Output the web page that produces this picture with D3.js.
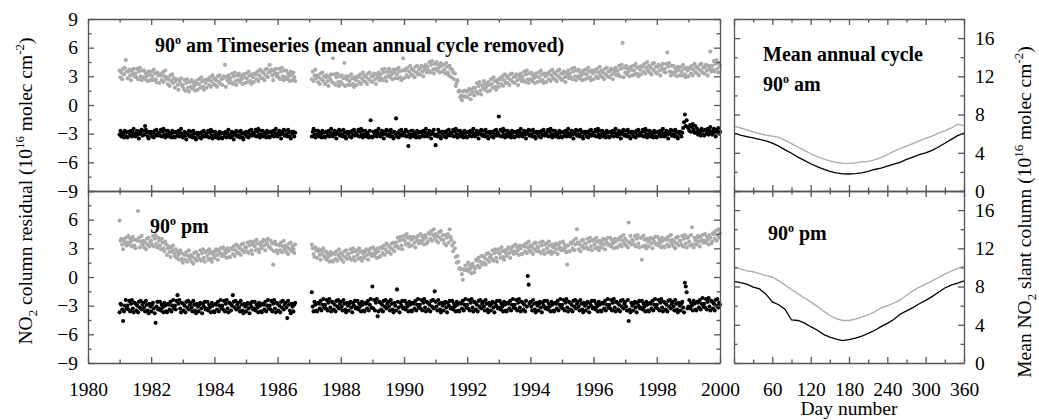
<!DOCTYPE html>
<html><head><meta charset="utf-8">
<script src="https://cdn.jsdelivr.net/npm/d3@7"></script>
<style>
body{margin:0;background:#fff}
svg{display:block}
text{font-family:"Liberation Serif","Times New Roman",serif;fill:#000}
</style>
</head><body>
<svg id="c" width="1039" height="420"></svg>
<script>
// ---------------- DATA ----------------
const yearLabels = [1980,1982,1984,1986,1988,1990,1992,1994,1996,1998,2000];
const residLabels = [-9,-6,-3,0,3,6,9];
const dayLabels = [60,120,180,240,300,360];
const slantLabels = [0,4,8,12,16];
const firstYear = 1981;
const samplesPerYear = 36;

// residual series (10^16 molec cm^-2): one row per year 1981..2000, 36 samples per year (4 quarters x 9)
const amGrayResid = [
[3.6,2.9,3.4,2.7,3.8,3.2,3.9,4.7,3.5, 2.8,3.5,3.7,3.1,2.6,3.6,3.3,3.8,3.0, 3.3,2.9,3.8,2.7,3.5,3.9,3.0,2.6,3.6, 2.9,3.6,2.7,3.3,3.0,2.5,3.5,3.2,2.6],
[3.5,3.0,2.6,3.7,3.3,2.7,2.4,3.4,3.1, 2.3,3.2,3.1,2.6,3.4,2.4,3.0,3.6,2.7, 2.9,2.2,2.7,2.0,3.1,2.5,3.2,2.3,2.8, 1.8,2.5,2.7,2.1,1.6,2.6,2.3,2.8,2.0],
[2.1,1.7,2.6,1.5,2.3,2.7,1.8,1.4,2.4, 1.9,2.6,1.7,2.3,2.0,1.5,2.5,2.2,1.6, 2.7,2.2,1.8,2.9,2.5,1.9,1.6,2.6,2.3, 1.8,2.7,2.6,2.1,2.9,1.9,2.5,3.1,2.2],
[2.8,2.1,2.6,1.9,3.0,2.4,3.1,2.2,2.7, 2.1,2.8,3.0,4.2,1.9,2.9,2.6,3.1,2.3, 2.8,2.4,3.3,2.2,3.0,3.4,2.5,2.1,3.1, 2.6,3.3,2.4,3.0,2.7,2.2,3.2,2.9,2.3],
[3.3,2.8,2.4,3.5,3.1,2.5,2.2,3.2,2.9, 2.4,3.3,3.2,2.7,3.5,2.5,3.1,3.7,2.8, 3.5,2.8,3.3,2.6,3.7,3.1,3.8,2.9,3.4, 4.2,3.5,3.7,3.1,2.6,3.6,3.3,3.8,3.0],
[3.3,2.9,3.8,2.7,3.5,3.9,3.0,2.6,3.6, 2.9,3.6,2.7,3.3,3.0,2.5,3.5,3.2,2.6, 3.4,2.9,2.5,null,null,null,null,null,null, null,null,null,null,null,null,null,null,null],
[null,null,null,2.7,3.5,2.5,3.1,3.7,2.8, 3.1,2.4,2.9,2.2,3.3,2.7,3.4,2.5,3.0, 2.2,2.9,3.1,2.5,2.0,3.0,2.7,3.2,2.4, 4.9,2.3,3.2,2.1,2.9,3.3,2.4,2.0,3.0],
[2.4,3.1,2.2,2.8,4.4,2.0,3.0,2.7,2.1, 3.0,2.5,2.1,3.2,2.8,2.2,1.9,2.9,2.6, 2.1,3.0,2.9,2.4,3.2,2.2,2.8,3.4,2.5, 3.1,2.4,2.9,2.2,3.3,2.7,3.4,2.5,3.0],
[2.4,3.1,3.3,2.7,2.2,3.2,2.9,3.4,2.6, 3.2,2.8,3.7,2.6,3.4,3.8,2.9,2.5,3.5, 3.1,3.8,2.9,3.5,3.2,2.7,3.7,3.4,2.8, 3.7,3.2,2.8,3.9,3.5,2.9,2.6,3.6,4.9],
[2.8,3.7,3.6,3.1,3.9,2.9,3.5,4.1,3.2, 3.8,3.1,3.6,2.9,4.0,3.4,4.1,3.2,3.7, 3.2,3.9,4.1,3.5,3.0,4.0,3.7,4.2,3.4, 4.0,3.6,4.5,3.4,4.2,4.6,3.7,3.3,4.3],
[3.8,4.5,3.6,4.2,3.9,3.4,4.4,4.1,3.5, 4.2,3.7,3.3,4.4,4.0,3.4,3.1,4.1,3.8, 2.9,3.7,3.4,2.7,3.3,2.0,2.3,2.6,1.4, 1.5,0.8,1.0,0.5,1.4,0.9,1.5,0.9,1.4],
[0.8,1.5,1.7,1.1,0.6,1.6,1.3,1.8,1.0, 1.8,1.4,2.3,1.2,2.0,2.4,1.5,1.1,2.1, 1.8,2.5,1.6,2.2,1.9,1.4,2.4,2.1,1.5, 2.7,2.2,1.8,2.9,2.5,1.9,1.6,2.6,2.3],
[1.9,2.8,2.7,2.2,3.0,2.0,2.6,3.2,2.3, 3.0,2.3,2.8,2.1,3.2,2.6,3.3,2.4,2.9, 2.3,3.0,3.2,2.6,2.1,3.1,2.8,3.3,2.5, 3.0,2.6,3.5,2.4,3.2,3.6,2.7,2.3,3.3],
[2.7,3.4,2.5,3.1,2.8,2.3,3.3,3.0,2.4, 3.4,2.9,2.5,3.6,3.2,2.6,2.3,3.3,3.0, 2.4,3.3,3.2,2.7,3.5,2.5,3.1,3.7,2.8, 3.4,2.7,3.2,2.5,3.6,3.0,3.7,2.8,3.3],
[2.6,3.3,3.5,2.9,2.4,3.4,3.1,3.6,2.8, 3.3,2.9,3.8,2.7,3.5,3.9,3.0,2.6,3.6, 3.0,3.7,2.8,3.4,3.1,2.6,3.6,3.3,2.7, 3.7,3.2,2.8,3.9,3.5,2.9,2.6,3.6,3.3],
[2.7,3.6,3.5,3.0,3.8,2.8,3.4,4.0,3.1, 3.6,2.9,3.4,2.7,3.8,3.2,3.9,3.0,3.5, 2.9,3.6,3.8,3.2,2.7,3.7,3.4,3.9,3.1, 3.6,3.2,4.1,3.0,3.8,4.2,6.5,2.9,3.9],
[3.4,4.1,3.2,3.8,3.5,3.0,4.0,3.7,3.1, 4.1,3.6,3.2,4.3,3.9,3.3,3.0,4.0,3.7, 3.2,4.1,4.0,3.5,4.3,3.3,3.9,4.5,3.6, 4.1,3.4,3.9,3.2,4.3,3.7,4.4,3.5,4.0],
[3.3,4.0,4.2,3.6,3.1,4.1,3.8,4.3,3.5, 3.8,3.4,4.3,5.5,4.0,4.4,3.5,3.1,4.1, 3.4,4.1,3.2,3.8,3.5,3.0,4.0,3.7,3.1, 4.0,3.5,3.1,4.2,3.8,3.2,2.9,3.9,3.6],
[3.0,3.9,3.8,3.3,4.1,3.1,3.7,4.3,3.4, 4.0,3.3,3.8,3.1,4.2,3.6,4.3,3.4,3.9, 3.3,4.0,4.2,3.6,3.1,4.1,3.8,5.6,3.5, 4.1,3.7,4.6,3.5,4.3,4.7,3.8,3.4,4.4],
[4.1]
];
const amBlackResid = [
[-3.1,-2.7,-3.3,-2.9,-3.1,-3.4,-2.7,-2.9,-3.3, -3.4,-2.8,-2.9,-3.2,-2.7,-3.3,-2.9,-2.5,-3.1, -3.3,-2.9,-2.7,-3.1,-3.5,-2.8,-3.0,-2.6,-3.2, -2.7,-3.1,-2.2,-2.6,-2.9,-3.3,-3.5,-2.8,-3.0],
[-2.8,-3.3,-2.9,-3.4,-2.7,-3.1,-2.6,-3.2,-2.9, -2.9,-3.2,-2.6,-3.3,-2.8,-2.5,-3.1,-3.4,-2.7, -3.1,-2.7,-3.3,-2.9,-3.1,-3.4,-2.7,-2.9,-3.3, -3.4,-2.8,-2.9,-3.2,-2.7,-3.3,-2.9,-2.5,-3.1],
[-3.4,-3.0,-2.8,-3.2,-3.6,-2.9,-3.1,-2.7,-3.3, -2.8,-3.2,-3.4,-2.7,-3.0,-3.4,-3.6,-2.9,-3.1, -2.9,-3.4,-3.0,-3.5,-2.8,-3.2,-2.7,-3.3,-3.0, -3.0,-3.3,-2.7,-3.4,-2.9,-2.6,-3.2,-3.5,-2.8],
[-3.2,-2.8,-3.4,-3.0,-3.2,-3.5,-2.8,-3.0,-3.4, -3.5,-2.9,-3.0,-3.3,-2.8,-3.4,-3.0,-2.6,-3.2, -3.4,-3.0,-2.8,-3.2,-3.6,-2.9,-3.1,-2.7,-3.3, -2.8,-3.2,-3.4,-2.7,-3.0,-3.4,-3.6,-2.9,-3.1],
[-2.8,-3.3,-2.9,-3.4,-2.7,-3.1,-2.6,-3.2,-2.9, -2.9,-3.2,-2.6,-3.3,-2.8,-2.5,-3.1,-3.4,-2.7, -3.1,-2.7,-3.3,-2.9,-3.1,-3.4,-2.7,-2.9,-3.3, -3.4,-2.8,-2.9,-3.2,-2.7,-3.3,-2.9,-2.5,-3.1],
[-3.3,-2.9,-2.7,-3.1,-3.5,-2.8,-3.0,-2.6,-3.2, -2.7,-3.1,-3.3,-2.6,-2.9,-3.3,-3.5,-2.8,-3.0, -2.8,-3.3,-2.9,null,null,null,null,null,null, null,null,null,null,null,null,null,null,null],
[null,null,null,-3.3,-2.8,-2.5,-3.1,-3.4,-2.7, -3.1,-2.7,-3.3,-2.9,-3.1,-3.4,-2.7,-2.9,-3.3, -3.4,-2.8,-2.9,-3.2,-2.7,-3.3,-2.9,-2.5,-3.1, -3.3,-2.9,-2.7,-3.1,-3.5,-2.8,-3.0,-2.6,-3.2],
[-2.7,-3.1,-3.3,-2.6,-2.9,-3.3,-3.5,-2.8,-3.0, -2.8,-3.3,-2.9,-3.4,-2.7,-3.1,-2.6,-3.2,-2.9, -2.9,-3.2,-2.6,-3.3,-2.8,-2.5,-3.1,-3.4,-2.7, -3.1,-2.7,-3.3,-2.9,-3.1,-3.4,-2.7,-1.6,-3.3],
[-3.4,-2.8,-2.9,-3.2,-2.7,-3.3,-2.9,-2.5,-3.1, -3.3,-2.9,-2.7,-3.1,-3.5,-2.8,-3.0,-2.6,-3.2, -2.7,-3.1,-3.3,-2.6,-2.9,-3.3,-3.5,-2.8,-3.0, -1.4,-3.3,-2.9,-3.4,-2.7,-3.1,-2.6,-3.2,-2.9],
[-2.9,-3.2,-2.6,-3.3,-2.8,-4.3,-3.1,-3.4,-2.7, -3.1,-2.7,-3.3,-2.9,-3.1,-3.4,-2.7,-2.9,-3.3, -3.4,-2.8,-2.9,-3.2,-2.7,-3.3,-2.9,-2.5,-3.1, -3.3,-2.9,-2.7,-3.1,-3.5,-2.8,-3.0,-2.6,-3.2],
[-4.2,-3.1,-3.3,-2.6,-2.9,-3.3,-3.5,-2.8,-3.0, -2.8,-3.3,-2.9,-3.4,-2.7,-3.1,-2.6,-3.2,-2.9, -2.9,-3.2,-2.6,-3.3,-2.8,-2.5,-3.1,-3.4,-2.7, -3.1,-2.7,-3.3,-2.9,-3.1,-3.4,-2.7,-2.9,-3.3],
[-3.4,-2.8,-2.9,-3.2,-2.7,-3.3,-2.9,-2.5,-3.1, -3.3,-2.9,-2.7,-3.1,-3.5,-2.8,-3.0,-2.6,-3.2, -2.7,-3.1,-3.3,-2.6,-2.9,-3.3,-3.5,-2.8,-3.0, -2.8,-3.3,-2.9,-3.4,-2.7,-3.1,-2.6,-3.2,-2.9],
[-1.2,-3.2,-2.6,-3.3,-2.8,-2.5,-3.1,-3.4,-2.7, -3.1,-2.7,-3.3,-2.9,-3.1,-3.4,-2.7,-2.9,-3.3, -3.4,-2.8,-2.9,-3.2,-2.7,-3.3,-2.9,-2.5,-3.1, -3.3,-2.9,-2.7,-3.1,-3.5,-2.8,-3.0,-2.6,-3.2],
[-2.7,-3.1,-3.3,-2.6,-2.9,-3.3,-3.5,-2.8,-3.0, -2.8,-3.3,-2.9,-3.4,-2.7,-3.1,-2.6,-3.2,-2.9, -2.9,-3.2,-2.6,-3.3,-2.8,-2.5,-3.1,-3.4,-2.7, -3.1,-2.7,-3.3,-2.9,-3.1,-3.4,-2.7,-2.9,-3.3],
[-3.4,-2.8,-2.9,-3.2,-2.7,-3.3,-2.9,-2.5,-3.1, -3.3,-2.9,-2.7,-3.1,-3.5,-2.8,-3.0,-2.6,-3.2, -2.7,-3.1,-3.3,-2.6,-2.9,-3.3,-3.5,-2.8,-3.0, -2.8,-3.3,-2.9,-3.4,-2.7,-3.1,-2.6,-3.2,-2.9],
[-2.9,-3.2,-2.6,-3.3,-2.8,-2.5,-3.1,-3.4,-2.7, -3.1,-2.7,-3.3,-2.9,-3.1,-3.4,-2.7,-2.9,-3.3, -3.4,-2.8,-2.9,-3.2,-2.7,-3.3,-2.9,-2.5,-3.1, -3.3,-2.9,-2.7,-3.1,-3.5,-2.8,-3.0,-2.6,-3.2],
[-2.7,-3.1,-3.3,-2.6,-2.9,-3.3,-3.5,-2.8,-3.0, -2.8,-3.3,-2.9,-3.4,-2.7,-3.1,-2.6,-3.2,-2.9, -2.9,-3.2,-2.6,-3.3,-2.8,-2.5,-3.1,-3.4,-2.7, -3.1,-2.7,-3.3,-2.9,-3.1,-3.4,-2.7,-2.9,-3.3],
[-3.4,-2.8,-2.9,-3.2,-2.7,-3.3,-2.9,-2.5,-3.1, -3.3,-2.9,-2.7,-3.1,-3.5,-2.8,-3.0,-2.6,-3.2, -2.7,-3.1,-3.3,-2.6,-2.9,-3.3,-3.5,-2.8,-3.0, -2.8,-3.3,-2.9,-2.4,-1.8,-1.0,-2.2,-1.6,-2.3],
[-2.4,-2.7,-2.1,-2.8,-2.3,-2.0,-2.6,-2.9,-2.2, -2.9,-2.5,-3.1,-2.7,-2.9,-3.2,-2.5,-2.7,-3.1, -3.2,-2.6,-2.7,-3.0,-2.5,-3.1,-2.7,-2.3,-2.9, -3.1,-2.7,-2.5,-2.9,-3.3,-2.6,-2.8,-2.4,-3.0],
[-2.8]
];
const pmGrayResid = [
[5.9,3.8,4.0,3.4,2.9,3.9,3.6,4.1,3.3, 3.6,4.3,3.4,4.0,3.7,3.2,4.2,3.9,3.3, 3.0,3.9,3.8,6.9,4.1,3.1,3.7,4.3,3.4, 3.8,3.1,3.6,2.9,4.0,3.4,4.1,3.2,3.7],
[3.8,3.4,4.3,3.2,4.0,4.4,3.5,3.1,4.1, 3.8,3.3,2.9,4.0,3.6,3.0,2.7,3.7,3.4, 2.3,3.0,3.2,2.6,2.1,3.1,2.8,3.3,2.5, 2.2,2.9,2.0,2.6,2.3,1.8,2.8,2.5,1.9],
[1.5,2.4,2.3,1.8,2.6,1.6,2.2,2.8,1.9, 2.3,1.6,2.1,1.4,2.5,1.9,2.6,1.7,2.2, 2.3,1.9,2.8,1.7,2.5,2.9,2.0,1.6,2.6, 2.7,2.2,1.8,2.9,2.5,1.9,1.6,2.6,2.3],
[2.0,2.7,2.9,2.3,1.8,2.8,2.5,3.0,2.2, 2.4,3.1,2.2,2.8,2.5,2.0,3.0,2.7,2.1, 2.1,3.0,2.9,2.4,3.2,2.2,2.8,3.4,2.5, 3.2,2.5,3.0,2.3,3.4,2.8,3.5,2.6,3.1],
[3.1,2.7,3.6,2.5,3.3,3.7,2.8,2.4,3.4, 3.7,3.2,2.8,3.9,3.5,2.9,2.6,3.6,3.3, 3.0,3.7,3.9,3.3,2.8,3.8,3.5,4.0,3.2, 3.1,3.8,2.9,3.5,1.3,2.7,3.7,3.4,2.8],
[2.5,3.4,3.3,2.8,3.6,2.6,3.2,3.8,2.9, 3.3,2.6,3.1,2.4,3.5,2.9,3.6,2.7,3.2, 2.9,2.5,3.4,null,null,null,null,null,null, null,null,null,null,null,null,null,null,null],
[null,null,null,3.4,3.0,2.4,2.1,3.1,2.8, 2.0,2.7,2.9,2.3,1.8,2.8,2.5,3.0,2.2, 2.0,2.7,1.8,2.4,2.1,1.6,2.6,2.3,1.7, 1.6,2.5,2.4,1.9,2.7,1.7,2.3,2.9,2.0],
[2.5,1.8,2.3,1.6,2.7,2.1,2.8,1.9,2.4, 2.4,2.0,2.9,1.8,2.6,3.0,2.1,1.7,2.7, 2.8,2.3,1.9,3.0,2.6,2.0,1.7,2.7,2.4, 2.0,2.7,2.9,2.3,1.8,2.8,2.5,3.0,2.2],
[2.4,3.1,2.2,2.8,2.5,2.0,3.0,2.7,2.1, 2.2,3.1,3.0,2.5,3.3,2.3,2.9,3.5,2.6, 3.3,2.6,3.1,2.4,3.5,2.9,3.6,2.7,3.2, 3.6,3.2,4.1,3.0,3.8,4.2,3.3,2.9,3.9],
[4.3,3.8,3.4,4.5,4.1,3.5,3.2,4.2,3.9, 3.3,4.0,4.2,3.6,3.1,4.1,3.8,4.3,3.5, 3.8,4.5,3.6,4.2,3.9,3.4,4.4,4.1,3.5, 3.7,4.6,4.5,4.0,4.8,3.8,4.4,5.0,4.1],
[4.5,3.8,4.3,3.6,4.7,4.1,4.8,3.9,4.4, 3.9,3.5,4.4,3.3,4.1,4.5,3.6,5.0,4.2, 3.9,3.3,2.7,3.6,3.0,2.1,1.5,2.2,1.6, 0.9,0.9,0.8,0.3,-0.3,0.8,0.7,1.2,0.7],
[0.8,1.5,0.6,1.2,0.9,0.4,1.4,1.1,0.5, 0.9,1.8,1.7,1.2,2.0,1.0,1.6,2.2,1.3, 2.2,1.5,2.0,1.3,2.4,1.8,2.5,1.6,2.1, 2.3,1.9,2.8,1.7,2.5,2.9,2.0,1.6,2.6],
[2.9,2.4,2.0,3.1,2.7,2.1,1.8,2.8,2.5, 2.2,2.9,3.1,2.5,2.0,3.0,2.7,3.2,2.4, 2.7,3.4,2.5,3.1,2.8,2.3,3.3,3.0,2.4, 2.4,3.3,3.2,2.7,3.5,2.5,3.1,3.7,2.8],
[3.3,2.6,3.1,2.4,3.5,2.9,3.6,2.7,3.2, 3.1,2.7,3.6,2.5,3.3,3.7,2.8,2.4,3.4, 3.5,3.0,2.6,3.7,3.3,2.7,2.4,3.4,3.1, 2.6,3.3,3.5,2.9,2.4,3.4,3.1,3.6,2.8],
[3.0,3.7,2.8,3.4,3.1,2.6,1.3,3.3,2.7, 2.7,3.6,3.5,3.0,3.8,2.8,3.4,4.0,5.0, 3.6,2.9,3.4,2.7,3.8,3.2,3.9,3.0,3.5, 3.5,3.1,4.0,2.9,3.7,4.1,3.2,2.8,3.8],
[3.9,3.4,3.0,4.1,3.7,3.1,2.8,3.8,3.5, 3.1,3.8,4.0,3.4,2.9,3.9,3.6,4.1,3.3, 3.4,4.1,3.2,3.8,3.5,3.0,4.0,3.7,3.1, 3.1,4.0,3.9,3.4,4.2,3.2,3.8,4.4,3.5],
[4.0,3.3,3.8,3.1,5.7,3.6,4.3,3.4,3.9, 3.8,3.4,4.3,3.2,4.0,4.4,3.5,3.1,4.1, 4.1,1.8,3.2,4.3,3.9,3.3,3.0,4.0,3.7, 3.2,3.9,4.1,3.5,3.0,4.0,3.7,4.2,3.4],
[3.5,4.2,3.3,3.9,3.6,3.1,4.1,3.8,3.2, 3.1,4.0,3.9,3.4,4.2,3.2,3.8,4.4,3.5, 3.9,3.2,3.7,3.0,4.1,3.5,4.2,3.3,3.8, 3.8,3.4,4.3,3.2,4.0,4.4,3.5,3.1,4.1],
[4.2,3.7,3.3,4.4,5.2,3.4,3.1,4.1,3.8, 3.4,4.1,4.3,3.7,3.2,4.2,3.9,4.4,3.6, 3.8,4.5,3.6,4.2,3.9,3.4,4.4,4.1,3.5, 3.7,4.6,4.5,4.0,4.8,3.8,4.4,5.0,4.1],
[4.6]
];
const pmBlackResid = [
[-3.7,-2.8,-2.9,-3.4,-4.6,-3.6,-3.0,-2.4,-3.3, -3.0,-3.4,-2.5,-3.6,-2.8,-2.4,-3.3,-3.7,-2.7, -2.8,-3.5,-3.0,-3.7,-2.6,-3.2,-2.5,-3.4,-2.9, -2.7,-3.2,-3.6,-2.5,-2.9,-3.5,-3.8,-2.8,-3.1],
[-3.6,-2.9,-2.7,-3.3,-3.8,-4.8,-3.1,-2.6,-3.4, -3.3,-2.6,-3.5,-2.9,-3.2,-3.7,-2.7,-3.0,-3.6, -3.7,-2.8,-2.9,-3.4,-2.6,-3.6,-3.0,-2.4,-3.3, -3.0,-3.4,-2.5,-1.9,-2.8,-2.4,-3.3,-3.7,-2.7],
[-2.8,-3.5,-3.0,-3.7,-2.6,-3.2,-2.5,-3.4,-2.9, -2.7,-3.2,-3.6,-2.5,-2.9,-3.5,-3.8,-2.8,-3.1, -3.6,-2.9,-2.7,-3.3,-3.8,-2.8,-3.1,-2.6,-3.4, -3.3,-2.6,-3.5,-2.9,-3.2,-3.7,-2.7,-3.0,-3.6],
[-3.7,-2.8,-2.9,-3.4,-2.6,-3.6,-3.0,-2.4,-3.3, -3.0,-3.4,-2.5,-3.6,-2.8,-2.4,-3.3,-3.7,-2.7, -2.8,-3.5,-3.0,-1.9,-2.6,-3.2,-2.5,-3.4,-2.9, -2.7,-3.2,-3.6,-2.5,-2.9,-3.5,-3.8,-2.8,-3.1],
[-3.6,-2.9,-2.7,-3.3,-3.8,-2.8,-3.1,-2.6,-3.4, -3.3,-2.6,-3.5,-2.9,-3.2,-3.7,-2.7,-3.0,-3.6, -3.7,-2.8,-2.9,-3.4,-2.6,-3.6,-3.0,-2.4,-3.3, -3.0,-3.4,-2.5,-3.6,-2.8,-2.4,-3.3,-3.7,-2.7],
[-2.8,-3.5,-3.0,-3.7,-2.6,-3.2,-2.5,-3.4,-2.9, -2.7,-3.2,-4.3,-2.5,-2.9,-3.5,-3.8,-2.8,-3.1, -3.6,-2.9,-2.7,null,null,null,null,null,null, null,null,null,null,null,null,null,null,null],
[null,null,null,-1.6,-3.1,-3.6,-2.6,-2.9,-3.5, -3.6,-2.7,-2.8,-3.3,-2.5,-3.5,-2.9,-2.3,-3.2, -2.9,-3.3,-2.4,-3.5,-2.7,-2.3,-3.2,-3.6,-2.6, -2.7,-3.4,-2.9,-3.6,-2.5,-3.1,-2.4,-3.3,-2.8],
[-2.6,-3.1,-3.5,-2.4,-2.8,-3.4,-3.7,-2.7,-3.0, -3.5,-2.8,-2.6,-3.2,-3.7,-2.7,-3.0,-2.5,-3.3, -3.2,-2.5,-3.4,-2.8,-3.1,-3.6,-2.6,-2.9,-3.5, -3.6,-2.7,-2.8,-3.3,-2.5,-3.5,-2.9,-2.3,-3.2],
[-1.0,-3.3,-2.4,-3.5,-2.7,-2.3,-4.1,-3.6,-2.6, -2.7,-3.4,-2.9,-3.6,-2.5,-3.1,-2.4,-3.3,-2.8, -2.6,-3.1,-3.5,-2.4,-2.8,-3.4,-3.7,-2.7,-3.0, -3.5,-1.3,-2.6,-3.2,-3.7,-2.7,-3.0,-2.5,-3.3],
[-3.2,-2.5,-3.4,-2.8,-3.1,-3.6,-2.6,-2.9,-3.5, -3.6,-2.7,-2.8,-3.3,-2.5,-3.5,-2.9,-2.3,-3.2, -2.9,-3.3,-2.4,-3.5,-2.7,-2.3,-3.2,-3.6,-2.6, -2.7,-3.4,-2.9,-3.6,-2.5,-3.1,-2.4,-3.3,-1.5],
[-2.6,-3.1,-3.5,-2.4,-2.8,-3.4,-3.7,-2.7,-3.0, -3.5,-2.8,-2.6,-3.2,-3.7,-2.7,-3.0,-2.5,-3.3, -3.2,-2.5,-3.4,-2.8,-3.1,-3.6,-2.6,-2.9,-3.5, -3.6,-2.7,-2.8,-3.3,-2.5,-3.5,-2.9,-2.3,-3.2],
[-2.9,-3.3,-2.4,-3.5,-2.7,-2.3,-3.2,-3.6,-2.6, -2.7,-3.4,-2.9,-3.6,-2.5,-3.1,-2.4,-3.3,-2.8, -2.6,-3.1,-3.5,-2.4,-2.8,-3.4,-3.7,-2.7,-3.0, -3.5,-2.8,-2.6,-3.2,-3.7,-2.7,-3.0,-2.5,-3.3],
[-3.2,-2.5,-3.4,-2.8,-3.1,-3.6,-2.6,-2.9,-3.5, -3.6,-2.7,-2.8,-3.3,-2.5,-3.5,-2.9,-2.3,-3.2, -2.9,-3.3,-2.4,-3.5,-2.7,-2.3,-3.2,-3.6,-2.6, -2.7,-3.4,-2.9,-3.6,-2.5,-3.1,0.1,-0.8,-2.8],
[-2.6,-3.1,-3.5,-2.4,-2.8,-3.4,-3.7,-2.7,-3.0, -3.5,-2.8,-2.6,-3.2,-3.7,-2.7,-3.0,-2.5,-3.3, -3.2,-2.5,-3.4,-2.8,-3.1,-3.6,-2.6,-2.9,-3.5, -3.6,-2.7,-2.8,-3.3,-2.5,-3.5,-2.9,-2.3,-3.2],
[-2.9,-3.3,-2.4,-3.5,-2.7,-2.3,-3.2,-3.6,-2.6, -2.7,-3.4,-2.9,-3.6,-2.5,-3.1,-2.4,-3.3,-2.8, -2.6,-3.1,-3.5,-2.4,-2.8,-3.4,-3.7,-2.7,-3.0, -3.5,-2.8,-2.6,-3.2,-3.7,-2.7,-3.0,-2.5,-3.3],
[-3.2,-2.5,-3.4,-2.8,-3.1,-3.6,-2.6,-2.9,-3.5, -3.6,-2.7,-2.8,-3.3,-2.5,-3.5,-2.9,-2.3,-3.2, -2.9,-3.3,-2.4,-3.5,-2.7,-2.3,-3.2,-3.6,-2.6, -2.7,-3.4,-2.9,-3.6,-2.5,-3.1,-2.4,-3.3,-2.8],
[-2.6,-3.1,-3.5,-2.4,-4.6,-3.4,-3.7,-2.7,-3.0, -3.5,-2.8,-2.6,-3.2,-3.7,-2.7,-3.0,-2.5,-3.3, -3.2,-2.5,-3.4,-2.8,-3.1,-3.6,-2.6,-2.9,-3.5, -3.6,-2.7,-2.8,-3.3,-2.5,-3.5,-2.9,-2.3,-3.2],
[-2.9,-3.3,-2.4,-3.5,-2.7,-2.3,-3.2,-3.6,-2.6, -2.7,-3.4,-2.9,-3.6,-2.5,-3.1,-2.4,-3.3,-2.8, -2.6,-3.1,-3.5,-2.4,-2.8,-3.4,-3.7,-2.7,-3.0, -3.5,-2.8,-2.6,-3.2,-3.7,-0.6,-1.0,-1.6,-3.3],
[-3.1,-2.4,-3.3,-2.7,-3.0,-3.5,-2.5,-2.8,-3.4, -3.5,-2.6,-2.7,-3.2,-2.4,-3.4,-2.8,-2.2,-3.1, -2.8,-3.2,-2.3,-3.4,-2.6,-2.2,-3.1,-3.5,-2.5, -2.6,-3.3,-2.8,-3.5,-2.4,-3.0,-2.3,-3.2,-2.7],
[-2.9]
];

// mean annual cycle (10^16 molec cm^-2)
const cycleDays = [0,10,20,30,40,50,60,70,80,90,100,110,120,130,140,150,160,170,180,190,200,210,220,230,240,250,260,270,280,290,300,310,320,330,340,350,360];
const amGrayCycle  = [6.8,6.6,6.4,6.2,6.0,5.85,5.75,5.6,5.3,4.95,4.6,4.25,3.9,3.6,3.35,3.15,3.0,2.92,2.9,2.95,3.05,3.1,3.25,3.5,3.8,4.15,4.45,4.7,4.95,5.25,5.5,5.75,6.05,6.3,6.6,7.0,6.85];
const amBlackCycle = [6.05,5.85,5.7,5.55,5.4,5.25,5.0,4.7,4.3,3.95,3.55,3.2,2.85,2.55,2.3,2.05,1.9,1.8,1.78,1.82,1.9,2.05,2.25,2.4,2.6,2.8,3.0,3.3,3.55,3.8,4.0,4.25,4.6,5.0,5.4,5.8,6.05];
const pmGrayCycle  = [10.1,9.85,9.65,9.55,9.35,9.15,9.0,8.6,8.15,7.7,7.25,6.8,6.4,5.95,5.45,5.0,4.65,4.45,4.45,4.6,4.8,5.05,5.35,5.75,6.0,6.25,6.6,7.1,7.55,7.95,8.25,8.6,8.95,9.3,9.6,9.9,10.15];
const pmBlackCycle = [8.55,8.4,8.25,7.95,7.75,7.2,6.4,6.1,5.6,4.5,4.45,4.2,3.8,3.45,3.0,2.7,2.5,2.35,2.45,2.6,2.8,3.1,3.4,3.8,4.15,4.55,5.1,5.45,5.8,6.2,6.55,6.95,7.4,7.85,8.15,8.35,8.6];

// ---------------- DRAW ----------------
const svg = d3.select("#c");
const GRAY = "#aaaaaa", FRAME = "#555", FS = 19.5;
const L = {x0:88, x1:720}, R = {x0:734, x1:964};
const P1 = {y0:19, y1:191}, P2 = {y0:191, y1:363};

const xT = d3.scaleLinear().domain([1980,2000]).range([L.x0, L.x1]);
const xD = d3.scaleLinear().domain([0,360]).range([R.x0, R.x1]);
const yA = d3.scaleLinear().domain([-9,9]).range([P1.y1, P1.y0]);
const yB = d3.scaleLinear().domain([-9,9]).range([P2.y1, P2.y0]);
const yAR = d3.scaleLinear().domain([0,18]).range([P1.y1, P1.y0]);
const yBR = d3.scaleLinear().domain([0,18]).range([P2.y1, P2.y0]);

const MAJ = 6, MIN = 3.5;
function ticksOnly(g, axisFn, scale, major, minor, pos) {
  const a = g.append("g").attr("transform", pos).attr("color", FRAME);
  a.call(axisFn(scale).tickValues(minor).tickSize(-MIN).tickSizeOuter(0).tickFormat(""));
  a.append("g").call(axisFn(scale).tickValues(major).tickSize(-MAJ).tickSizeOuter(0).tickFormat(""))
    .select(".domain").remove();
  a.selectAll("path,line").attr("stroke-width", 1.3);
}
function frame(x, y, xMajor, xMinor, yMajor, yMinor) {
  const g = svg.append("g");
  const [xa, xb] = x.range(); const [yb, ya] = y.range();
  ticksOnly(g, d3.axisBottom, x, xMajor, xMinor, `translate(0,${yb})`);
  ticksOnly(g, d3.axisTop, x, xMajor, xMinor, `translate(0,${ya})`);
  ticksOnly(g, d3.axisLeft, y, yMajor, yMinor, `translate(${xa},0)`);
  ticksOnly(g, d3.axisRight, y, yMajor, yMinor, `translate(${xb},0)`);
}
const yrMajor = d3.range(1980, 2001, 2), yrMinor = d3.range(1981, 2000, 2);
const rMajor = [-9,-6,-3,0,3,6,9], rMinor = [-7.5,-4.5,-1.5,1.5,4.5,7.5];
const dMajor = [0,60,120,180,240,300,360], dMinor = [30,90,150,210,270,330];
const sMajor = [0,4,8,12,16], sMinor = [2,6,10,14,18];

function flatten(rows) {
  const out = [];
  rows.forEach((row, r) => row.forEach((v, k) => {
    if (v !== null) out.push({t: firstYear + r + k / samplesPerYear, v});
  }));
  return out;
}
function dots(rows, y, color) {
  svg.append("g").selectAll("circle").data(flatten(rows)).join("circle")
    .attr("cx", d => xT(d.t)).attr("cy", d => y(d.v)).attr("r", 2.05).attr("fill", color);
}
dots(amGrayResid, yA, GRAY);
dots(amBlackResid, yA, "#000");
dots(pmGrayResid, yB, GRAY);
dots(pmBlackResid, yB, "#000");

function cycle(vals, y, color) {
  const line = d3.line().x((d, i) => xD(cycleDays[i])).y(d => y(d));
  svg.append("path").datum(vals).attr("d", line).attr("fill", "none")
    .attr("stroke", color).attr("stroke-width", 1.3);
}
cycle(amGrayCycle, yAR, GRAY);
cycle(amBlackCycle, yAR, "#000");
cycle(pmGrayCycle, yBR, GRAY);
cycle(pmBlackCycle, yBR, "#000");

frame(xT, yA, yrMajor, yrMinor, rMajor, rMinor);
frame(xT, yB, yrMajor, yrMinor, rMajor, rMinor);
frame(xD, yAR, dMajor, dMinor, sMajor, sMinor);
frame(xD, yBR, dMajor, dMinor, sMajor, sMinor);

function labels(axis, pos) {
  const g = svg.append("g").attr("transform", pos).call(axis);
  g.select(".domain").remove();
  g.selectAll("text").attr("font-size", FS).attr("font-family", '"Liberation Serif",serif').attr("fill", "#000");
  return g;
}
labels(d3.axisLeft(yA).tickValues(residLabels).tickSize(0).tickPadding(10), `translate(${L.x0},0)`);
labels(d3.axisLeft(yB).tickValues(residLabels.filter(v => v < 9)).tickSize(0).tickPadding(10), `translate(${L.x0},0)`);
labels(d3.axisRight(yAR).tickValues(slantLabels).tickSize(0).tickPadding(11), `translate(${R.x1},0)`);
labels(d3.axisRight(yBR).tickValues(slantLabels).tickSize(0).tickPadding(11), `translate(${R.x1},0)`);
labels(d3.axisBottom(xT).tickValues(yearLabels).tickSize(0).tickPadding(19).tickFormat(d3.format("d")), `translate(0,${P2.y1})`);
labels(d3.axisBottom(xD).tickValues(dayLabels).tickSize(0).tickPadding(19), `translate(0,${P2.y1})`);

function label90(x, y, suffix) {
  const t = svg.append("text").attr("x", x).attr("y", y).attr("font-size", 20).attr("font-weight", "bold");
  t.append("tspan").text("90");
  t.append("tspan").attr("dy", -8).attr("font-size", 12).text("o");
  t.append("tspan").attr("dy", 8).text(suffix);
}
label90(155, 52, " am Timeseries (mean annual cycle removed)");
label90(150, 233, " pm");
svg.append("text").attr("x", 763).attr("y", 61).attr("font-size", 20).attr("font-weight", "bold").text("Mean annual cycle");
label90(763, 91, " am");
label90(768, 240, " pm");

svg.append("text").attr("x", (R.x0 + R.x1) / 2).attr("y", 415).attr("text-anchor", "middle")
  .attr("font-size", FS).text("Day number");

function axisTitle(x, y, pre, mid) {
  const t = svg.append("text").attr("transform", `translate(${x},${y}) rotate(-90)`)
    .attr("text-anchor", "middle").attr("font-size", FS);
  t.append("tspan").text(pre + "NO");
  t.append("tspan").attr("dy", 5).attr("font-size", 13).text("2");
  t.append("tspan").attr("dy", -5).text(mid + " (10");
  t.append("tspan").attr("dy", -8).attr("font-size", 13).text("16");
  t.append("tspan").attr("dy", 8).text(" molec cm");
  t.append("tspan").attr("dy", -8).attr("font-size", 13).text("-2");
  t.append("tspan").attr("dy", 8).text(")");
}
axisTitle(32, 191, "", " column residual");
axisTitle(1031, 212, "Mean ", " slant column");
</script>
</body></html>
